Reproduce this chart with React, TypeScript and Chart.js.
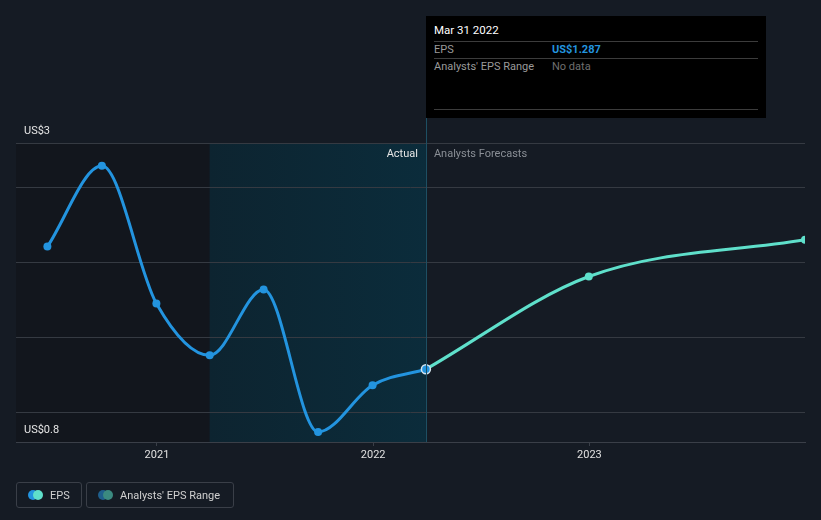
import React, { useEffect, useRef } from "react";
import { Chart, registerables } from "chart.js";

Chart.register(...registerables);

// ---- data ----
const actualDates = ["2020-06-30", "2020-09-30", "2020-12-31", "2021-03-31", "2021-06-30", "2021-09-30", "2021-12-31", "2022-03-31"];
const actualEps = [2.107, 2.647, 1.727, 1.38, 1.82, 0.867, 1.18, 1.287];
const forecastDates = ["2022-03-31", "2022-12-31", "2023-12-31"];
const forecastEps = [1.287, 1.907, 2.153];
const yearTicks = [2021, 2022, 2023];
const yTickValues = [0.8, 1, 1.5, 2, 2.5, 2.8];
const yTickLabels = ["US$0.8", "", "", "", "", "US$3"];
const xRange = ["2020-05-08", "2023-12-31"];
const bandRange = ["2021-03-31", "2022-03-31"];

const ts = (s: string) => Date.parse(s + "T00:00:00Z");

const BLUE = "#2394df";
const AQUA = "#5fe0cb";
const FONT = "Roboto, 'Open Sans', sans-serif";

const overlayPlugin = {
  id: "overlay",
  beforeDraw(chart: any) {
    const { ctx, chartArea } = chart;
    const xs = chart.scales.x;
    const b0 = xs.getPixelForValue(ts(bandRange[0]));
    const b1 = xs.getPixelForValue(ts(bandRange[1]));
    ctx.save();
    ctx.fillStyle = "#12161d";
    ctx.fillRect(chartArea.left, chartArea.top, b0 - chartArea.left, chartArea.bottom - chartArea.top);
    const g = ctx.createLinearGradient(b0, 0, b1, 0);
    g.addColorStop(0, "#0d2430");
    g.addColorStop(1, "#0b2c3b");
    ctx.fillStyle = g;
    ctx.fillRect(b0, chartArea.top, b1 - b0, chartArea.bottom - chartArea.top);
    ctx.restore();
  },
  afterDraw(chart: any) {
    const { ctx, chartArea } = chart;
    const xs = chart.scales.x;
    const ys = chart.scales.y;
    const b1 = xs.getPixelForValue(ts(bandRange[1]));
    ctx.save();
    // vertical marker line
    ctx.strokeStyle = "#1d4f63";
    ctx.lineWidth = 1;
    ctx.beginPath();
    ctx.moveTo(Math.round(b1) + 0.5, 118);
    ctx.lineTo(Math.round(b1) + 0.5, chartArea.bottom);
    ctx.stroke();
    // y labels
    ctx.font = `11px ${FONT}`;
    ctx.textBaseline = "middle";
    ctx.textAlign = "left";
    ctx.fillStyle = "#e6e6e6";
    yTickValues.forEach((v, i) => {
      const lbl = yTickLabels[i];
      if (!lbl) return;
      ctx.fillText(lbl, chartArea.left + 8, ys.getPixelForValue(v) - 12);
    });
    // Actual / Forecast labels
    ctx.textAlign = "right";
    ctx.fillStyle = "#e6e6e6";
    ctx.fillText("Actual", b1 - 8, chartArea.top + 11);
    ctx.textAlign = "left";
    ctx.fillStyle = "#8a8f96";
    ctx.fillText("Analysts Forecasts", b1 + 8, chartArea.top + 11);
    ctx.restore();
  },
};

export default function App() {
  const ref = useRef<HTMLCanvasElement | null>(null);

  useEffect(() => {
    document.body.style.margin = "0";
    document.body.style.background = "#151b24";
    const canvas = ref.current;
    if (!canvas) return;
    const actualPts = actualDates.map((d, i) => ({ x: ts(d), y: actualEps[i] }));
    const forecastPts = forecastDates.map((d, i) => ({ x: ts(d), y: forecastEps[i] }));
    const last = actualPts.length - 1;
    const chart = new Chart(canvas, {
      type: "line",
      data: {
        datasets: [
          {
            label: "EPS",
            data: actualPts,
            borderColor: BLUE,
            backgroundColor: BLUE,
            borderWidth: 3,
            cubicInterpolationMode: "monotone",
            pointRadius: actualPts.map((_, i) => (i === last ? 4.5 : 4)),
            pointBackgroundColor: BLUE,
            pointBorderColor: actualPts.map((_, i) => (i === last ? "#d6e4ee" : BLUE)),
            pointBorderWidth: actualPts.map((_, i) => (i === last ? 1.5 : 0)),
            order: 0,
          },
          {
            label: "Forecast",
            data: forecastPts,
            borderColor: AQUA,
            backgroundColor: AQUA,
            borderWidth: 3,
            cubicInterpolationMode: "monotone",
            pointRadius: forecastPts.map((_, i) => (i === 0 ? 0 : 4)),
            pointBackgroundColor: AQUA,
            pointBorderWidth: 0,
            order: 1,
          },
        ],
      },
      options: {
        responsive: false,
        animation: false,
        events: [],
        layout: { padding: { left: 16, right: 16, top: 143, bottom: 48 } },
        plugins: { legend: { display: false }, tooltip: { enabled: false } },
        scales: {
          x: {
            type: "linear",
            min: ts(xRange[0]),
            max: ts(xRange[1]),
            afterBuildTicks: (scale: any) => {
              scale.ticks = yearTicks.map((y) => ({ value: Date.UTC(y, 0, 1) }));
            },
            afterFit: (scale: any) => {
              scale.height = 30;
            },
            ticks: {
              color: "#e0e0e0",
              font: { size: 11, family: FONT },
              padding: 3,
              maxRotation: 0,
              autoSkip: false,
              callback: (v: any) => String(new Date(Number(v)).getUTCFullYear()),
            },
            grid: { drawOnChartArea: false, drawTicks: true, tickLength: 4, color: "#3a3f48" },
            border: { display: true, color: "#3a3f48", width: 1 },
          },
          y: {
            type: "linear",
            min: 0.8,
            max: 2.8,
            afterBuildTicks: (scale: any) => {
              scale.ticks = yTickValues.map((v) => ({ value: v }));
            },
            afterFit: (scale: any) => {
              scale.width = 0;
            },
            ticks: { display: false },
            grid: { color: "#353a42", drawTicks: false, lineWidth: 1 },
            border: { display: false },
          },
        },
      },
      plugins: [overlayPlugin],
    } as any);
    return () => chart.destroy();
  }, []);

  const sep: React.CSSProperties = { position: "absolute", left: 8, width: 324, height: 1, background: "#3c3c3c" };
  const txt: React.CSSProperties = { position: "absolute", fontSize: 11, lineHeight: "13px", whiteSpace: "nowrap" };
  const box: React.CSSProperties = {
    position: "absolute",
    top: 482,
    height: 26,
    border: "1px solid #3a3f48",
    borderRadius: 3,
    boxSizing: "border-box",
  };
  const dot = (left: number, color: string): React.CSSProperties => ({
    position: "absolute",
    left,
    top: 7,
    width: 10,
    height: 10,
    borderRadius: 5,
    background: color,
  });

  return (
    <div style={{ position: "relative", width: 821, height: 520, background: "#151b24", fontFamily: FONT, overflow: "hidden" }}>
      <canvas ref={ref} width={821} height={520} style={{ position: "absolute", left: 0, top: 0 }} />
      {/* tooltip */}
      <div style={{ position: "absolute", left: 426, top: 16, width: 340, height: 102, background: "#000" }}>
        <div style={{ ...txt, left: 8, top: 8, color: "#ffffff", fontSize: 11.5 }}>Mar 31 2022</div>
        <div style={{ ...sep, top: 25 }} />
        <div style={{ ...txt, left: 8, top: 27, color: "#9a9a9a" }}>EPS</div>
        <div style={{ ...txt, left: 126, top: 27, color: BLUE, fontWeight: 700 }}>US$1.287</div>
        <div style={{ ...sep, top: 42 }} />
        <div style={{ ...txt, left: 8, top: 44, color: "#9a9a9a" }}>Analysts' EPS Range</div>
        <div style={{ ...txt, left: 126, top: 44, color: "#6f6f6f" }}>No data</div>
        <div style={{ ...sep, top: 93 }} />
      </div>
      {/* legend */}
      <div style={{ ...box, left: 16, width: 66 }}>
        <div style={dot(11, BLUE)} />
        <div style={dot(16, AQUA)} />
        <div style={{ ...txt, left: 33, top: 6, color: "#d0d0d0" }}>EPS</div>
      </div>
      <div style={{ ...box, left: 86, width: 148 }}>
        <div style={dot(11, "#1f5f8c")} />
        <div style={dot(16, "#3b8a80")} />
        <div style={{ ...txt, left: 33, top: 6, color: "#d0d0d0" }}>Analysts' EPS Range</div>
      </div>
    </div>
  );
}
